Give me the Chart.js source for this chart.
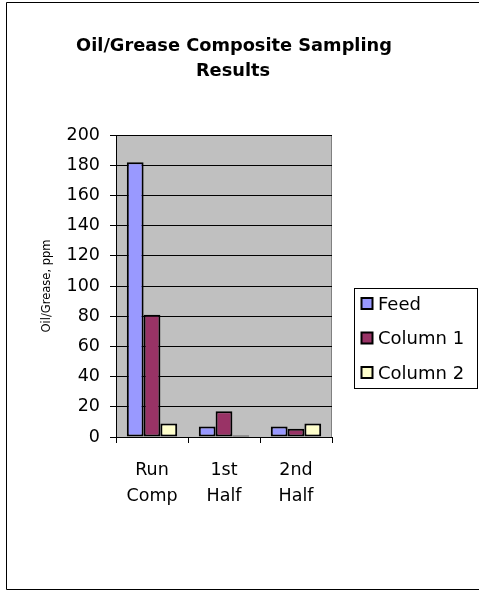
<!DOCTYPE html>
<html>
<head>
<meta charset="utf-8">
<script src="https://cdn.jsdelivr.net/npm/chart.js@4/dist/chart.umd.min.js"></script>
<style>
  html, body { margin: 0; padding: 0; background: #ffffff; }
  #wrap { width: 479px; height: 592px; position: relative; }
</style>
</head>
<body>
<div id="wrap"><canvas id="chart" width="479" height="592"></canvas></div>
<script>
// Sampling points and measured oil/grease concentrations (ppm)
const categories = [['Run', 'Comp'], ['1st', 'Half'], ['2nd', 'Half']];
const seriesNames = ['Feed', 'Column 1', 'Column 2'];
const feed = [182, 7, 7];
const column1 = [81, 17, 5.5];
const column2 = [9, 1, 9];
const seriesColors = ['#9999ff', '#993366', '#ffffcc'];
const titleLines = ['Oil/Grease Composite Sampling', 'Results'];
const yAxisTitle = 'Oil/Grease, ppm';

const FONT = 'DejaVu Sans';

// Gray plot background with a darker frame, plus the outer chart frame
const backdrop = {
  id: 'backdrop',
  beforeDraw(chart) {
    const { ctx, chartArea: a } = chart;
    ctx.save();
    ctx.fillStyle = '#ffffff';
    ctx.fillRect(0, 0, chart.width, chart.height);
    ctx.fillStyle = '#c0c0c0';
    ctx.fillRect(a.left, a.top, a.right - a.left, a.bottom - a.top);
    ctx.strokeStyle = '#808080';
    ctx.lineWidth = 1;
    ctx.strokeRect(a.left + 0.5, a.top + 0.5, a.right - a.left - 1, a.bottom - a.top);
    // outer frame (right side runs off the canvas)
    ctx.strokeStyle = '#000000';
    ctx.beginPath();
    ctx.moveTo(chart.width + 5, 2.5);
    ctx.lineTo(6.5, 2.5);
    ctx.lineTo(6.5, 589.5);
    ctx.lineTo(chart.width + 5, 589.5);
    ctx.stroke();
    ctx.restore();
  }
};

// Two-line bold heading and boxed legend on the right
const decorations = {
  id: 'decorations',
  afterDraw(chart) {
    const { ctx } = chart;
    ctx.save();
    ctx.fillStyle = '#000000';
    ctx.textAlign = 'center';
    ctx.textBaseline = 'alphabetic';
    ctx.font = 'bold 17.8px "' + FONT + '"';
    ctx.fillText(titleLines[0], 234, 51);
    ctx.fillText(titleLines[1], 233, 75.5);

    // legend
    const lx = 354.5, ly = 288.5, lw = 123, lh = 100;
    ctx.strokeStyle = '#000000';
    ctx.lineWidth = 1;
    ctx.fillStyle = '#ffffff';
    ctx.fillRect(lx, ly, lw, lh);
    ctx.strokeRect(lx, ly, lw, lh);
    ctx.font = '18px "' + FONT + '"';
    ctx.textAlign = 'left';
    ctx.textBaseline = 'middle';
    chart.data.datasets.forEach((ds, i) => {
      const cy = 304 + i * 34.5;
      ctx.fillStyle = ds.backgroundColor;
      ctx.fillRect(361.5, cy - 6, 11, 11);
      ctx.lineWidth = 2;
      ctx.strokeStyle = '#000000';
      ctx.strokeRect(361.5, cy - 6, 11, 11);
      ctx.fillStyle = '#000000';
      ctx.fillText(ds.label, 378, cy + 1);
    });
    ctx.restore();
  }
};

const datasets = [feed, column1, column2].map((vals, i) => ({
  label: seriesNames[i],
  data: vals,
  backgroundColor: seriesColors[i],
  borderColor: '#000000',
  borderWidth: 2,
  borderSkipped: false,
  categoryPercentage: 0.7,
  barPercentage: 1.0
}));

new Chart(document.getElementById('chart'), {
  type: 'bar',
  data: { labels: categories, datasets: datasets },
  options: {
    responsive: false,
    animation: false,
    devicePixelRatio: 1,
    layout: { padding: { left: 34, right: 147, top: 135, bottom: 75 } },
    plugins: {
      legend: { display: false },
      title: { display: false },
      tooltip: { enabled: false }
    },
    scales: {
      x: {
        offset: true,
        clip: false,
        afterFit(scale) { scale.height = 80; },
        grid: {
          offset: true,
          drawOnChartArea: false,
          drawTicks: true,
          tickLength: 6,
          color: '#000000',
          lineWidth: 1
        },
        border: { display: true, color: '#000000', width: 1 },
        ticks: {
          color: '#000000',
          font: { family: FONT, size: 17.5, lineHeight: 1.45 },
          padding: 15,
          maxRotation: 0,
          autoSkip: false
        }
      },
      y: {
        min: 0,
        max: 200,
        clip: false,
        afterFit(scale) { scale.width = 82; },
        grid: {
          drawOnChartArea: true,
          drawTicks: true,
          tickLength: 6,
          color: '#000000',
          lineWidth: 1
        },
        border: { display: true, color: '#000000', width: 1 },
        ticks: {
          stepSize: 20,
          color: '#000000',
          font: { family: FONT, size: 17.5 },
          padding: 10
        },
        title: {
          display: true,
          text: yAxisTitle,
          color: '#000000',
          font: { family: FONT, size: 11.5 },
          padding: { top: 6, bottom: 0 }
        }
      }
    }
  },
  plugins: [backdrop, decorations]
});
</script>
</body>
</html>
